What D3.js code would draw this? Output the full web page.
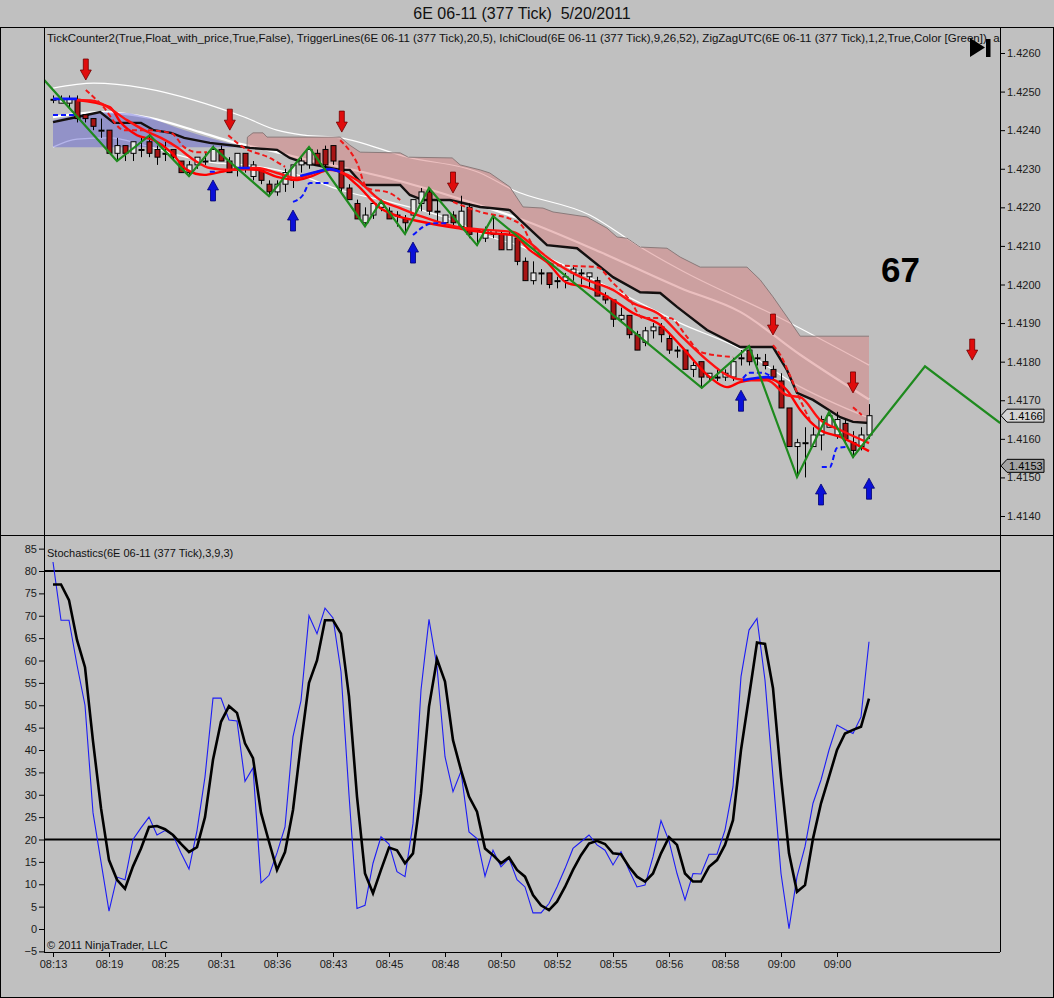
<!DOCTYPE html>
<html>
<head>
<meta charset="utf-8">
<script src="https://cdn.jsdelivr.net/npm/d3@7"></script>
<style>
  body { margin: 0; background: #c0c0c0; }
  svg { display: block; font-family: "Liberation Sans", Arial, sans-serif; }
</style>
</head>
<body>
<div id="chart"></div>
<script>
// ---- data (bar index = one 377-tick bar) ----
const timeLabels = ["08:13","08:19","08:25","08:31","08:36","08:43","08:45","08:48",
  "08:50","08:52","08:55","08:56","08:58","09:00","09:00"];

const opens = [1.4248,1.4247,1.4247,1.4248,1.4244,1.4243,1.4240,1.4240,1.4234,1.4236,
  1.4234,1.4235,1.4237,1.4235,1.4234,1.4235,1.4232,1.4229,1.4231,1.4232,
  1.4232,1.4235,1.4232,1.4230,1.4234,1.4228,1.4230,1.4226,1.4224,1.4226,
  1.4227,1.4231,1.4231,1.4234,1.4235,1.4236,1.4232,1.4225,1.4221,1.4216,
  1.4218,1.4220,1.4219,1.4218,1.4217,1.4218,1.4221,1.4224,1.4219,1.4216,
  1.4218,1.4215,1.4220,1.4214,1.4212,1.4213,1.4213,1.4209,1.4212,1.4206,
  1.4201,1.4203,1.4203,1.4201,1.4201,1.4203,1.4203,1.4202,1.4201,1.4197,
  1.4196,1.4191,1.4192,1.4187,1.4185,1.4188,1.4189,1.4186,1.4183,1.4183,
  1.4178,1.4180,1.4176,1.4176,1.4176,1.4176,1.4181,1.4183,1.4181,1.4180,
  1.4178,1.4175,1.4168,1.4158,1.4159,1.4158,1.4161,1.4163,1.4161,1.4164,
  1.4159,1.4158,1.4161];
const highs = [1.4249,1.4249,1.4249,1.4249,1.4244,1.4243,1.4243,1.4240,1.4238,1.4236,
  1.4237,1.4238,1.4239,1.4236,1.4237,1.4235,1.4232,1.4232,1.4233,1.4234,
  1.4236,1.4236,1.4233,1.4234,1.4234,1.4232,1.4230,1.4227,1.4227,1.4230,
  1.4231,1.4233,1.4235,1.4235,1.4236,1.4236,1.4232,1.4226,1.4222,1.4220,
  1.4221,1.4222,1.4220,1.4219,1.4218,1.4222,1.4225,1.4225,1.4222,1.4218,
  1.4219,1.4223,1.4221,1.4214,1.4215,1.4218,1.4214,1.4214,1.4212,1.4207,
  1.4206,1.4204,1.4203,1.4202,1.4203,1.4205,1.4204,1.4203,1.4202,1.4198,
  1.4196,1.4194,1.4192,1.4188,1.4189,1.4190,1.4190,1.4187,1.4184,1.4183,
  1.4180,1.4180,1.4177,1.4178,1.4178,1.4181,1.4183,1.4184,1.4182,1.4182,
  1.4179,1.4177,1.4168,1.4160,1.4163,1.4163,1.4166,1.4167,1.4167,1.4165,
  1.4162,1.4163,1.4169];
const lows = [1.4247,1.4247,1.4246,1.4242,1.4242,1.4240,1.4238,1.4234,1.4232,1.4232,
  1.4232,1.4233,1.4233,1.4231,1.4232,1.4232,1.4229,1.4228,1.4230,1.4231,
  1.4232,1.4232,1.4229,1.4228,1.4229,1.4227,1.4226,1.4223,1.4223,1.4224,
  1.4225,1.4229,1.4230,1.4231,1.4230,1.4231,1.4224,1.4222,1.4217,1.4215,
  1.4217,1.4219,1.4217,1.4215,1.4213,1.4217,1.4219,1.4218,1.4216,1.4215,
  1.4215,1.4215,1.4212,1.4210,1.4211,1.4212,1.4209,1.4209,1.4205,1.4201,
  1.4200,1.4200,1.4199,1.4199,1.4199,1.4201,1.4200,1.4199,1.4197,1.4195,
  1.4189,1.4190,1.4186,1.4183,1.4184,1.4186,1.4185,1.4182,1.4181,1.4178,
  1.4176,1.4173,1.4175,1.4175,1.4175,1.4175,1.4179,1.4179,1.4179,1.4178,
  1.4175,1.4168,1.4158,1.4150,1.4150,1.4158,1.4157,1.4163,1.4160,1.4159,
  1.4155,1.4157,1.4160];
const closes = [1.4248,1.4248,1.4248,1.4243,1.4243,1.4241,1.4240,1.4234,1.4236,1.4234,
  1.4237,1.4235,1.4234,1.4233,1.4234,1.4233,1.4229,1.4231,1.4233,1.4232,
  1.4235,1.4232,1.4229,1.4234,1.4230,1.4231,1.4227,1.4224,1.4226,1.4229,
  1.4231,1.4232,1.4235,1.4231,1.4231,1.4232,1.4225,1.4222,1.4217,1.4218,
  1.4221,1.4221,1.4217,1.4218,1.4216,1.4222,1.4224,1.4219,1.4219,1.4218,
  1.4216,1.4219,1.4213,1.4214,1.4214,1.4214,1.4209,1.4213,1.4206,1.4201,
  1.4203,1.4203,1.4200,1.4201,1.4202,1.4204,1.4203,1.4203,1.4197,1.4196,
  1.4191,1.4192,1.4187,1.4183,1.4188,1.4189,1.4187,1.4183,1.4183,1.4178,
  1.4179,1.4176,1.4177,1.4176,1.4177,1.4180,1.4181,1.4180,1.4181,1.4179,
  1.4176,1.4168,1.4158,1.4159,1.4159,1.4161,1.4165,1.4166,1.4165,1.4160,
  1.4157,1.4161,1.4166];

// stochastics %K (blue) and %D (black)
const stochK = [82,69,69,59,50,26,15,4,11.6,11,
  20,22.6,25,21,22,21,17,13.4,22,34,
  51.6,51.6,46.7,46.5,33,36,10.3,12,17,22.8,
  43,51,70,66,71.7,69.5,57.5,30,4.6,5.3,
  14.7,20.6,19,12.8,11.7,23.6,53.4,69.2,58.6,38.5,
  30.7,35.2,21.7,20.2,11.8,17.6,13.9,15.8,11,9.4,
  3.6,3.6,5.7,9.4,13.5,18,19.5,21,18.8,17.6,
  14.3,17.3,13.2,9.4,9.8,16.1,24.2,19.7,12.4,6.5,
  12.4,12.3,16.7,16.7,22.1,31.8,56.4,66.8,69.4,55.6,
  34,12.4,0.1,11.7,18.4,28.1,33.3,40,45.6,44.6,
  43.7,47.4,64.2];
const stochD = [77,77,73.5,64.6,58.5,42,27,15.4,11,9,
  14,18,22.8,23,22.3,21,19,17.2,18.3,25,
  37.8,46.3,49.8,48.3,41.5,38.2,26,19.5,13.2,17.2,
  26.6,41.5,55,60,69,69,66,52,29.6,12.4,
  8,13.2,18.2,17.6,14.7,16.9,30.3,49.7,60.3,55.3,
  42.2,35.5,29.6,26.2,18,16.5,14.7,16,13.2,11.7,
  7.6,5.3,4.2,6.1,9.4,13.2,16.5,19.1,19.7,19,
  16.9,16.7,13.9,11.7,10.6,12.4,16.9,20.5,18.8,12.4,
  10.6,10.6,13.9,15.4,18.8,24.3,40,51.9,64,63.7,
  53.8,34,16.9,8.3,9.8,20.2,28.1,34,40,43.7,
  44.5,45.2,51.5];
const stochLevels = [80, 20];

// [bar, price] points of the overlay indicators
const envUpper = [[0,1.42509],[5.1,1.42522],[11.4,1.42509],[17.6,1.42478],[23.9,1.42434],
  [28,1.42400],[31.4,1.42387],[35.9,1.42380],[44.3,1.42330],[53.4,1.42289],[57.5,1.42245],
  [67.1,1.42180],[73.4,1.42097],[78.4,1.42038],[90.9,1.41913],[102,1.41791]];
const envMid = [[0,1.42434],[5.9,1.42447],[12.1,1.42432],[18.4,1.42395],[22.5,1.42369],
  [26.75,1.42349],[30.9,1.42328],[35.9,1.42305],[44.25,1.42263],[52.5,1.42211],[58.75,1.42167],
  [68.4,1.42084],[78.4,1.41991],[85.9,1.41929],[93.4,1.41818],[102,1.41702]];
const envLower = [[0,1.42356],[3,1.42377],[7.1,1.42380],[11.4,1.42361],[15.5,1.42336],
  [19.6,1.42317],[23.9,1.42310],[28,1.42297],[31.4,1.42279],[35.9,1.42245],[42.1,1.42214],
  [50.5,1.42162],[53.4,1.42133],[58.75,1.42097],[65.9,1.42030],[73.4,1.41952],[78.4,1.41900],
  [85.9,1.41833],[92.5,1.41745],[102,1.41654]];
const kijun = [[0,1.42421],[3,1.42434],[5.9,1.42447],[7.6,1.42419],[11,1.42419],[12.6,1.42400],
  [14.75,1.42393],[16.4,1.42380],[19.6,1.42367],[23,1.42359],[24.6,1.42354],[28,1.42349],
  [29.6,1.42328],[31.4,1.42315],[35.9,1.42297],[37.1,1.42297],[38.75,1.42258],[43.4,1.42258],
  [44.6,1.42232],[46.25,1.42219],[49.6,1.42219],[53.4,1.42201],[57.1,1.42193],[58.4,1.42167],
  [61.75,1.42102],[65.5,1.42094],[70,1.42019],[73.4,1.41980],[75.9,1.41978],[78,1.41942],
  [81.75,1.41882],[85.9,1.41838],[90,1.41838],[91.75,1.41778],[93,1.41719],[95,1.41701],
  [98.4,1.41656],[100,1.41644],[102,1.41641]];
const spanA = [[0,1.42426],[3,1.42439],[5.9,1.42447],[9.6,1.42444],[12.1,1.42432],
  [15.5,1.42406],[18.4,1.42387],[21.5,1.42369],[24.25,1.42356]];
const spanB = [[0,1.42356],[24.25,1.42356],[24.3,1.42382],[25,1.42393],[26.25,1.42393],
  [26.75,1.42382],[35.9,1.42382],[37.1,1.42361],[38.4,1.42343],[43.4,1.42341],[44.4,1.42330],
  [49.9,1.42328],[50.9,1.42310],[53.4,1.42297],[54.6,1.42289],[57.1,1.42253],[58.75,1.42201],
  [61.25,1.42198],[62.5,1.42188],[66.75,1.42175],[69.25,1.42146],[70.5,1.42123],[71.75,1.42120],
  [73.4,1.42097],[76.75,1.42094],[78.4,1.42071],[80.9,1.42045],[86.75,1.42045],[88.4,1.42012],
  [90,1.41968],[91.75,1.41916],[93.4,1.41866],[102,1.41866]];
const triggerFast = [[3,1.42478],[5.1,1.42476],[6.4,1.42465],[9.25,1.42426],[11.4,1.42400],
  [13.5,1.42380],[15.5,1.42356],[17.6,1.42323],[19.6,1.42302],[22.25,1.42297],[25.5,1.42302],
  [28,1.42289],[30.5,1.42276],[33,1.42292],[34.6,1.42299],[35.9,1.42292],[38,1.42271],
  [40.9,1.42219],[43.4,1.42198],[46.25,1.42175],[50.5,1.42149],[54.6,1.42141],[57.5,1.42136],
  [59.6,1.42108],[61.75,1.42071],[64.25,1.42038],[66.75,1.42012],[70,1.41986],[72.5,1.41952],
  [75.9,1.41921],[78.4,1.41869],[81.75,1.41804],[84.25,1.41765],[86.75,1.41752],[89.25,1.41752],
  [91.75,1.41713],[93.4,1.41708],[95.9,1.41649],[98.4,1.41623],[102,1.41589]];
const triggerSlow = [[3,1.42478],[7.1,1.42460],[8.5,1.42419],[10.5,1.42387],[12.6,1.42374],
  [14.75,1.42343],[16.75,1.42297],[18.9,1.42284],[21,1.42292],[23,1.42299],[25.5,1.42297],
  [28,1.42279],[30.5,1.42271],[32.1,1.42279],[34.6,1.42297],[35.9,1.42292],[38,1.42258],
  [40.9,1.42198],[43.4,1.42175],[46.25,1.42162],[50.5,1.42146],[54.6,1.42133],[57.5,1.42128],
  [59.6,1.42089],[61.75,1.42058],[64.25,1.42004],[66.75,1.41993],[70,1.41960],[72.5,1.41926],
  [75.9,1.41895],[78.4,1.41843],[82.1,1.41760],[84.25,1.41734],[85.9,1.41747],[89.25,1.41757],
  [91.75,1.41726],[93.4,1.41675],[95.9,1.41623],[98.4,1.41605],[102,1.41568]];
const triggerDash = [[4.1,1.42504],[6.1,1.42465],[8.9,1.42400],[11.4,1.42400],[14.75,1.42393],
  [16.4,1.42356],[18,1.42343],[19.25,1.42343], null,
  [21.9,1.42387],[23.75,1.42356],[27.1,1.42328],[29,1.42305], null,
  [35.9,1.42374],[38,1.42315],[39.25,1.42250],[42.1,1.42237],[43.4,1.42219], null,
  [50,1.42214],[53.4,1.42188],[57.5,1.42167],[58.75,1.42149],[59.6,1.42115],[63,1.42050],
  [68,1.42045],[70,1.42004],[72.1,1.41960],[73.75,1.41913],[77.1,1.41913],[79.25,1.41864],
  [80.9,1.41825],[85,1.41812], null,
  [90,1.41843],[90.9,1.41818],[92.1,1.41765],[93.4,1.41701],[94.6,1.41649], null,
  [100,1.41682],[101.1,1.41662]];
const tenkanSolid = [[0,1.42481],[3,1.42481], null,
  [23,1.42302],[24.6,1.42302], null,
  [30.9,1.42281],[33,1.42292],[34.6,1.42299],[35.9,1.42292], null,
  [86.25,1.41752],[89.25,1.41760],[90,1.41757]];
const tenkanDash = [[0,1.42439],[3,1.42439], null,
  [19.6,1.42292],[20.6,1.42292], null,
  [30,1.42214],[31.25,1.42232],[32.1,1.42263],[34.6,1.42263], null,
  [45,1.42128],[47.5,1.42159],[49.25,1.42159], null,
  [86.25,1.41757],[87.1,1.41771],[88.75,1.41771],[90,1.41757], null,
  [96.1,1.41527],[97.1,1.41527],[98,1.41576],[99.25,1.41579]];
const zigzag = [[-1.1,1.42530],[8,1.42320],[12.1,1.42387],[17,1.42281],[20,1.42356],
  [27,1.42229],[32,1.42356],[39,1.42151],[41,1.42216],[44,1.42131],[47,1.42250],
  [53,1.42102],[55,1.42177],[81.1,1.41732],[87,1.41840],[93,1.41501],[97,1.41669],
  [100,1.41553],[109,1.41788],[118.4,1.41641]];
const sellArrows = [[4.1,1.42530],[22.1,1.42400],[36.1,1.42395],[50,1.42237],
  [90,1.41869],[100,1.41719],[114.9,1.41804]];
const buyArrows = [[20,1.42271],[30,1.42193],[45,1.42110],[86,1.41726],[96,1.41483],[102,1.41498]];
const priceMarkers = [1.4166, 1.4153];
const tickCount = "67";

// ---- layout ----
const W = 1054, H = 998;
const plotL = 44, plotR = 1000, priceTop = 27, priceBot = 535, stochBot = 952;

const x = d3.scaleLinear().domain([0, 102]).range([53, 869]);
const yP = d3.scaleLinear().domain([1.4140, 1.4260]).range([516, 53]);
const yS = d3.scaleLinear().domain([0, 80]).range([929, 571]);

const svg = d3.select("#chart").append("svg")
  .attr("width", W).attr("height", H);

svg.append("rect").attr("width", W).attr("height", H).attr("fill", "#c0c0c0");

const defs = svg.append("defs");
defs.append("clipPath").attr("id", "clipPrice").append("rect")
  .attr("x", plotL).attr("y", priceTop).attr("width", plotR - plotL).attr("height", priceBot - priceTop);
defs.append("clipPath").attr("id", "clipStoch").append("rect")
  .attr("x", plotL).attr("y", priceBot).attr("width", plotR - plotL).attr("height", stochBot - priceBot);

// title
svg.append("text").attr("x", 522).attr("y", 19).attr("text-anchor", "middle")
  .attr("font-size", 16).attr("fill", "#111").style("white-space", "pre")
  .text("6E 06-11 (377 Tick)  5/20/2011");

const price = svg.append("g").attr("clip-path", "url(#clipPrice)");

const smooth = d3.line().defined(d => d !== null)
  .x(d => x(d[0])).y(d => yP(d[1])).curve(d3.curveMonotoneX);
const straight = d3.line().defined(d => d !== null)
  .x(d => x(d[0])).y(d => yP(d[1]));

// envelope lines sit under the cloud so they turn pale pink inside it
price.append("path").attr("d", smooth(envUpper)).attr("fill", "none")
  .attr("stroke", "#ffffff").attr("stroke-width", 1.2);
price.append("path").attr("d", smooth(envMid)).attr("fill", "none")
  .attr("stroke", "#ffffff").attr("stroke-width", 2.2);
price.append("path").attr("d", smooth(envLower)).attr("fill", "none")
  .attr("stroke", "#ffffff").attr("stroke-width", 1.2);

// Ichimoku cloud
const blueBottom = spanB.filter(d => d[0] <= 24.25);
const bluePoly = spanA.concat(blueBottom.slice().reverse());
price.append("path").attr("d", straight(bluePoly) + "Z")
  .attr("fill", "#5a5ad2").attr("fill-opacity", 0.45);

const pinkTop = spanB.filter(d => d[0] >= 24.25);
const pinkBottom = kijun.filter(d => d[0] > 24.25);
const pinkPoly = pinkTop.concat(pinkBottom.slice().reverse());
price.append("path").attr("d", straight(pinkPoly) + "Z")
  .attr("fill", "#d88080").attr("fill-opacity", 0.5);
price.append("path").attr("d", straight(pinkTop)).attr("fill", "none")
  .attr("stroke", "#8a7a7a").attr("stroke-width", 1);

// kijun
price.append("path").attr("d", straight(kijun)).attr("fill", "none")
  .attr("stroke", "#141010").attr("stroke-width", 2.4);

// candles
const bars = opens.map((o, i) => ({ i, o, h: highs[i], l: lows[i], c: closes[i] }));
const candle = price.selectAll("g.candle").data(bars).join("g").attr("class", "candle");
candle.append("line")
  .attr("x1", d => Math.round(x(d.i)) + 0.5).attr("x2", d => Math.round(x(d.i)) + 0.5)
  .attr("y1", d => yP(d.h)).attr("y2", d => yP(d.l))
  .attr("stroke", "#000").attr("stroke-width", 1);
candle.append("rect")
  .attr("x", d => Math.round(x(d.i)) - 2)
  .attr("y", d => yP(Math.max(d.o, d.c)))
  .attr("width", 5)
  .attr("height", d => Math.max(1, Math.abs(yP(d.o) - yP(d.c))))
  .attr("fill", d => d.c < d.o ? "#a81414" : "#e8e8e8")
  .attr("stroke", "#000").attr("stroke-width", 1);

// trigger lines
price.append("path").attr("d", smooth(triggerSlow)).attr("fill", "none")
  .attr("stroke", "#ff0000").attr("stroke-width", 2.4);
price.append("path").attr("d", smooth(triggerFast)).attr("fill", "none")
  .attr("stroke", "#ff1010").attr("stroke-width", 2.4);
price.append("path").attr("d", smooth(triggerDash)).attr("fill", "none")
  .attr("stroke", "#f01818").attr("stroke-width", 2).attr("stroke-dasharray", "5,3");

// blue tenkan pieces
price.append("path").attr("d", smooth(tenkanSolid)).attr("fill", "none")
  .attr("stroke", "#0a14ff").attr("stroke-width", 2.6);
price.append("path").attr("d", smooth(tenkanDash)).attr("fill", "none")
  .attr("stroke", "#0a14ff").attr("stroke-width", 2).attr("stroke-dasharray", "5,3");

// zigzag
price.append("path").attr("d", straight(zigzag)).attr("fill", "none")
  .attr("stroke", "#1e8a1e").attr("stroke-width", 2.2);

// arrows
const downArrow = (cx, tip) =>
  `M${cx - 2.5},${tip - 21}H${cx + 2.5}V${tip - 10}H${cx + 5.5}L${cx},${tip}L${cx - 5.5},${tip - 10}H${cx - 2.5}Z`;
const upArrow = (cx, tip) =>
  `M${cx - 2.5},${tip + 21}H${cx + 2.5}V${tip + 10}H${cx + 5.5}L${cx},${tip}L${cx - 5.5},${tip + 10}H${cx - 2.5}Z`;
price.selectAll("path.sell").data(sellArrows).join("path").attr("class", "sell")
  .attr("d", d => downArrow(x(d[0]), yP(d[1])))
  .attr("fill", "#e00c0c").attr("stroke", "#700000").attr("stroke-width", 0.8);
price.selectAll("path.buy").data(buyArrows).join("path").attr("class", "buy")
  .attr("d", d => upArrow(x(d[0]), yP(d[1])))
  .attr("fill", "#0a10d8").attr("stroke", "#000070").attr("stroke-width", 0.8);

// tick counter
price.append("text").attr("x", 881).attr("y", 282)
  .attr("font-size", 35).attr("font-weight", "bold").attr("fill", "#000").text(tickCount);

// indicator caption
price.append("text").attr("x", 47).attr("y", 42).attr("font-size", 11.5).attr("fill", "#111")
  .text("TickCounter2(True,Float_with_price,True,False), TriggerLines(6E 06-11 (377 Tick),20,5), IchiCloud(6E 06-11 (377 Tick),9,26,52), ZigZagUTC(6E 06-11 (377 Tick),1,2,True,Color [Green]), anaK");

// play-to-end button
price.append("path").attr("d", "M970,38L970,57L985,47.5Z").attr("fill", "#000");
price.append("rect").attr("x", 986).attr("y", 39).attr("width", 4.5).attr("height", 18).attr("fill", "#000");

// ---- stochastics panel ----
const stoch = svg.append("g").attr("clip-path", "url(#clipStoch)");
stoch.selectAll("line.level").data(stochLevels).join("line").attr("class", "level")
  .attr("x1", plotL).attr("x2", plotR)
  .attr("y1", d => yS(d)).attr("y2", d => yS(d))
  .attr("stroke", "#000").attr("stroke-width", 2);

const stochLine = d3.line().x((d, i) => x(i)).y(d => yS(d));
stoch.append("path").attr("d", stochLine(stochK)).attr("fill", "none")
  .attr("stroke", "#1c1cf5").attr("stroke-width", 1.1);
stoch.append("path").attr("d", stochLine(stochD)).attr("fill", "none")
  .attr("stroke", "#000").attr("stroke-width", 2.6);

stoch.append("text").attr("x", 47).attr("y", 557).attr("font-size", 11).attr("fill", "#111")
  .text("Stochastics(6E 06-11 (377 Tick),3,9,3)");
stoch.append("text").attr("x", 47).attr("y", 949).attr("font-size", 11).attr("fill", "#111")
  .text("\u00a9 2011 NinjaTrader, LLC");

// ---- axes ----
const fontAxis = g => g.attr("font-family", "'Liberation Sans', Arial, sans-serif")
  .attr("font-size", 11)
  .call(s => s.select(".domain").remove())
  .call(s => s.selectAll("text").attr("fill", "#1a1a1a"))
  .call(s => s.selectAll("line").attr("stroke", "#000"));

svg.append("g").attr("transform", `translate(${plotR},0)`)
  .call(d3.axisRight(yP).tickValues(d3.range(14140, 14261, 10).map(v => v / 10000))
    .tickFormat(d3.format(".4f")).tickSize(5).tickPadding(2))
  .call(fontAxis);

svg.append("g").attr("transform", `translate(${plotL},0)`)
  .call(d3.axisLeft(yS).tickValues(d3.range(-5, 86, 5)).tickSize(5).tickPadding(2))
  .call(fontAxis);

svg.append("g").attr("transform", `translate(0,${stochBot})`)
  .call(d3.axisBottom(x).tickValues(d3.range(0, 99, 7))
    .tickFormat((d, i) => timeLabels[i]).tickSize(5).tickPadding(3))
  .call(fontAxis);

// current price markers on the price axis
const marker = svg.selectAll("g.marker").data(priceMarkers).join("g").attr("class", "marker");
marker.append("path")
  .attr("d", d => { const y = yP(d); return `M${plotR + 1},${y}L${plotR + 7},${y - 6.5}H${plotR + 44}V${y + 6.5}H${plotR + 7}Z`; })
  .attr("fill", (d, i) => i === 0 ? "#d4d4d4" : "#a4a4a4")
  .attr("stroke", "#000").attr("stroke-width", 1);
marker.append("text").attr("x", plotR + 9).attr("y", d => yP(d) + 4)
  .attr("font-size", 11).attr("fill", "#000").text(d => d.toFixed(4));

// ---- frames ----
const frame = svg.append("g").attr("stroke", "#000").attr("stroke-width", 1).attr("fill", "none");
frame.append("rect").attr("x", 0.5).attr("y", priceTop + 0.5).attr("width", W - 1).attr("height", H - priceTop - 1);
frame.append("line").attr("x1", plotL + 0.5).attr("x2", plotL + 0.5).attr("y1", priceTop).attr("y2", stochBot);
frame.append("line").attr("x1", plotR + 0.5).attr("x2", plotR + 0.5).attr("y1", priceTop).attr("y2", stochBot);
frame.append("line").attr("x1", 0).attr("x2", W).attr("y1", priceBot + 0.5).attr("y2", priceBot + 0.5);
frame.append("line").attr("x1", plotL).attr("x2", plotR).attr("y1", stochBot + 0.5).attr("y2", stochBot + 0.5);
</script>
</body>
</html>
